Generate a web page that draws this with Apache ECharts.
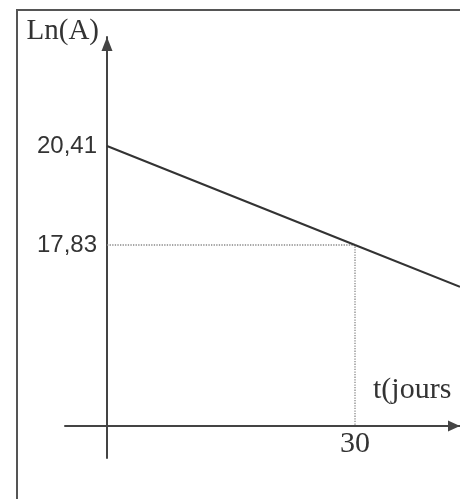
<!DOCTYPE html>
<html>
<head>
<meta charset="utf-8">
<script src="https://cdn.jsdelivr.net/npm/echarts@6/dist/echarts.min.js"></script>
<style>
  html, body { margin: 0; padding: 0; background: #fff; }
  #chart { width: 460px; height: 499px; }
</style>
</head>
<body>
<div id="chart"></div>
<script>
// Decay line: ln(A) against time in days
const tDays = [0, 30, 42.7];
const lnA = [20.41, 17.83, 16.74];

// Reading guide through the point at t = 30, dropped to the time axis
const xAxisAtLnA = 13.12;   // ln(A) level where the time axis is drawn
const guideT = [0, 30, 30];
const guideLnA = [17.83, 17.83, xAxisAtLnA];

// Marked values on the axes
const yTicks = [20.41, 17.83];
const xTicks = [30];

// Axis ranges
const xRange = [-5.08, 42.7];
const yRange = [12.28, 23.25];

const toPairs = (xs, ys) => xs.map((x, i) => [x, ys[i]]);
const comma = v => String(v).replace('.', ',');

const chart = echarts.init(document.getElementById('chart'), null, { renderer: 'canvas' });

const axisColor = '#444';
const textColor = '#333';

chart.setOption({
  backgroundColor: '#ffffff',
  animation: false,
  grid: {
    left: 65, top: 37, width: 395, height: 421,
    containLabel: false,
    outerBoundsMode: 'none'
  },
  graphic: [{
    type: 'rect',
    shape: { x: 17, y: 10, width: 600, height: 600 },
    style: { fill: 'none', stroke: '#555', lineWidth: 2 },
    silent: true
  }],
  xAxis: {
    type: 'value',
    min: xRange[0], max: xRange[1],
    offset: -32,
    splitLine: { show: false },
    axisTick: { show: false },
    axisLine: {
      show: true,
      lineStyle: { color: axisColor, width: 2 },
      symbol: ['none', 'triangle'],
      symbolSize: [11, 12],
      symbolOffset: [0, -6]
    },
    axisLabel: {
      customValues: xTicks,
      margin: 3,
      color: textColor,
      fontFamily: 'Liberation Serif',
      fontSize: 30
    },
    name: 't(jours',
    nameLocation: 'end',
    nameGap: -87,
    nameTextStyle: {
      fontFamily: 'Liberation Serif',
      fontSize: 30,
      color: textColor,
      align: 'left',
      verticalAlign: 'bottom',
      padding: [0, 0, 21, 0]
    }
  },
  yAxis: {
    type: 'value',
    min: yRange[0], max: yRange[1],
    offset: -42,
    splitLine: { show: false },
    axisTick: { show: false },
    axisLine: {
      show: true,
      lineStyle: { color: axisColor, width: 2 },
      symbol: ['none', 'triangle'],
      symbolSize: [11, 14],
      symbolOffset: [0, -7]
    },
    axisLabel: {
      customValues: yTicks,
      formatter: v => comma(v),
      margin: 10,
      color: textColor,
      fontFamily: 'Liberation Sans',
      fontSize: 24,
      padding: [0, 0, 8, 0]
    },
    name: 'Ln(A)',
    nameLocation: 'end',
    nameGap: 6,
    nameTextStyle: {
      fontFamily: 'Liberation Serif',
      fontSize: 29,
      color: textColor,
      align: 'right',
      verticalAlign: 'middle',
      padding: [0, 8, 0, 0]
    }
  },
  series: [
    {
      type: 'line',
      data: toPairs(guideT, guideLnA),
      symbol: 'none',
      silent: true,
      lineStyle: { color: '#888', width: 1.3, type: 'dotted' },
      z: 1
    },
    {
      type: 'line',
      data: toPairs(tDays, lnA),
      symbol: 'none',
      silent: true,
      lineStyle: { color: '#333', width: 2 },
      z: 2
    }
  ]
});
</script>
</body>
</html>
